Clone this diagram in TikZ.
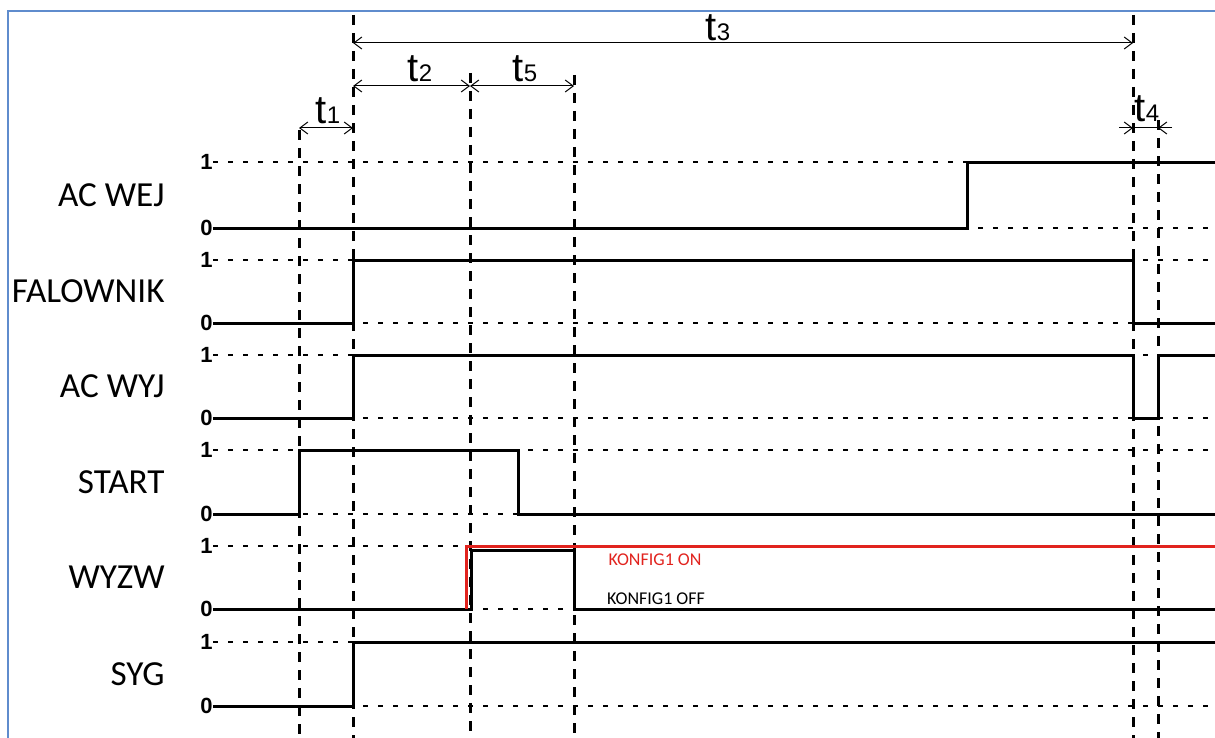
\documentclass[tikz,border=0pt]{standalone}
\usepackage{fontspec}
\usepackage{xcolor}
\usepackage{tikz}
\usetikzlibrary{calc,positioning,arrows.meta}
\setmainfont{Carlito}
\newfontfamily\arialfont{Liberation Sans}
\definecolor{frameblue}{RGB}{95,140,205}
\definecolor{konfigred}{RGB}{225,35,30}
\newcommand{\tlab}[1]{{\arialfont\fontsize{20}{20}\selectfont t\fontsize{12}{12}\selectfont #1}}

\begin{document}
\begin{tikzpicture}[x=0.5pt, y=-0.5pt, >={Straight Barb[length=4pt,width=6pt]},
		sigline/.style={line width=1.5pt, line join=miter},
		levelline/.style={line width=1.2pt, dash pattern=on 2.5pt off 5pt},
		marker/.style={line width=1.5pt, dash pattern=on 5pt off 4pt},
		spanline/.style={line width=0.5pt},
		signame/.style={anchor=east, font=\fontsize{17.6}{17.6}\selectfont, inner sep=0pt},
		lvl/.style={anchor=east, font=\arialfont\bfseries\fontsize{11}{11}\selectfont, inner sep=0pt},
		tlabel/.style={anchor=base, inner sep=0pt}]
	\useasboundingbox (0,0) rectangle (1215,738);
	\draw[frameblue, line width=1pt] (1230,11) -- (8,11) -- (8,760);

	% level lines and labels
	\foreach \hi/\lo/\nm [count=\i] in {162/228/AC WEJ, 260/323/FALOWNIK, 355/418/AC WYJ, 450/514/START, 546/609/WYZW, 642/706/SYG}{
		\node[lvl] (one\i) at (213,\hi) {1};
		\node[lvl] (zero\i) at (213,\lo) {0};
		\coordinate (endone\i) at (1215,\hi);
		\coordinate (endzero\i) at (1215,\lo);
		\draw[levelline] (one\i.east) -- (endone\i);
		\draw[levelline] (zero\i.east) -- (endzero\i);
		\node[signame] (sig\i) at (165,{(\hi+\lo)/2}) {\nm};
	}

	% time markers
	\foreach \nm/\x/\top in {ta/299/130, tb/353/15, tc/470/73, td/574/75, te/1133/15, tf/1158/120}{
		\coordinate (\nm top) at (\x,\top);
		\coordinate (\nm bot) at (\x,738);
		\draw[marker] (\nm top) -- (\nm bot);
	}

	% spans
	\coordinate (s3a) at (353,43);
	\coordinate (s3b) at (1133,43);
	\draw[spanline,<->] (s3a) -- (s3b);
	\node[tlabel] (lab3) at (718,41) {\tlab{3}};
	\coordinate (s2a) at (353,86);
	\coordinate (s2b) at (470,86);
	\coordinate (s5b) at (574,86);
	\draw[spanline,<->] (s2a) -- (s2b);
	\draw[spanline,<->] (s2b) -- (s5b);
	\node[tlabel] (lab2) at (420,82) {\tlab{2}};
	\node[tlabel] (lab5) at (525,82) {\tlab{5}};
	\coordinate (s1a) at (299,128);
	\coordinate (s1b) at (353,128);
	\draw[spanline,<->] (s1a) -- (s1b);
	\node[tlabel] (lab1) at (328,124) {\tlab{1}};
	\coordinate (s4l) at (1119,128);
	\coordinate (s4a) at (1133,128);
	\coordinate (s4b) at (1158,128);
	\coordinate (s4r) at (1172,128);
	\draw[spanline,->] (s4l) -- (s4a);
	\draw[spanline] (s4a) -- (s4b);
	\draw[spanline,->] (s4r) -- (s4b);
	\node[tlabel] (lab4) at (1147,122) {\tlab{4}};

	% signals
	\draw[sigline] (zero1.east) -- (967,228) -- (967,162) -- (endone1);
	\draw[sigline] (zero2.east) -- (353,323) -- (353,260) -- (1133,260) -- (1133,323) -- (endzero2);
	\draw[sigline] (zero3.east) -- (353,418) -- (353,355) -- (1133,355) -- (1133,418) -- (1158,418) -- (1158,355) -- (endone3);
	\draw[sigline] (zero4.east) -- (299,514) -- (299,450) -- (518,450) -- (518,514) -- (endzero4);
	\draw[sigline] (zero5.east) -- (471,609) -- (471,550) -- (574,550) -- (574,609) -- (endzero5);
	\draw[sigline, konfigred] (466,609) -- (466,546) -- (endone5);
	\draw[sigline] (zero6.east) -- (353,706) -- (353,642) -- (endone6);

	\node[font=\fontsize{9}{9}\selectfont, text=konfigred] (kon) at (655,560) {KONFIG1 ON};
	\node[font=\fontsize{9}{9}\selectfont] (koff) at (656,599) {KONFIG1 OFF};
\end{tikzpicture}
\end{document}
